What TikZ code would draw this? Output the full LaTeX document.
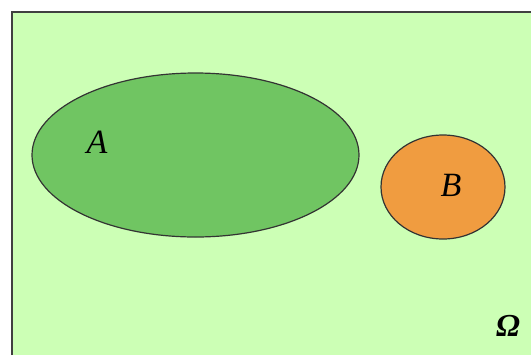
\documentclass[tikz,border=0pt]{standalone}
\usepackage{fontspec}
\setmainfont{Liberation Serif}
\usetikzlibrary{shapes.geometric}

\definecolor{omegabg}{RGB}{204,255,181}
\definecolor{setgreen}{RGB}{112,197,98}
\definecolor{setorange}{RGB}{240,156,64}

\begin{document}
\begin{tikzpicture}[
  x=0.5pt, y=-0.5pt,
  region/.style={
    ellipse, draw=black!80, line width=0.6pt, inner sep=0pt
  },
  setname/.style={
    font=\fontsize{17}{20}\selectfont\itshape, inner sep=1pt
  }
]
\useasboundingbox (0,0) rectangle (531,355);

% ================= Universe =================
\fill[omegabg] (12,12) rectangle (531,355);
\draw[black!75, line width=1pt] (12,355) -- (12,12) -- (531,12);

% ================= Sets =================
\node[region, fill=setgreen, minimum width=163.5pt, minimum height=82pt] (SetA) at (195.5,155) {};
\node[region, fill=setorange, minimum width=62pt, minimum height=52pt] (SetB) at (443,187) {};

% ================= Labels =================
\node[setname] (labA) at (97,142) {A};
\node[setname] (labB) at (451,185) {B};
\node[setname, font=\fontsize{16}{19}\selectfont\bfseries\itshape] (labOmega) at (508,326) {Ω};

\end{tikzpicture}
\end{document}
